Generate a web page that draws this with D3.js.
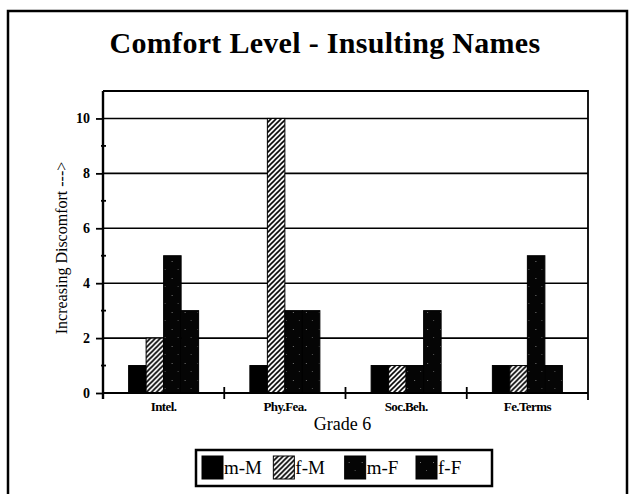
<!DOCTYPE html>
<html>
<head>
<meta charset="utf-8">
<script src="https://cdn.jsdelivr.net/npm/d3@7"></script>
<style>
  html, body { margin: 0; padding: 0; background: #fff; }
  svg { display: block; }
</style>
</head>
<body>
<div id="chart"></div>
<script>
// datos
const categories = ["Intel.", "Phy.Fea.", "Soc.Beh.", "Fe.Terms"]
const seriesNames = ["m-M", "f-M", "m-F", "f-F"]
const mM = [1, 1, 1, 1]
const fM = [2, 10, 1, 1]
const mF = [5, 3, 1, 5]
const fF = [3, 3, 3, 1]
const yTicks = [0, 2, 4, 6, 8, 10]
const yMinorTicks = [1, 3, 5, 7, 9]

const width = 630, height = 494
const margin = { top: 91, right: 42, bottom: 101, left: 103 }
const font = "'Liberation Serif', 'Times New Roman', serif"

const seriesValues = [mM, fM, mF, fF]
const rows = categories.map((c, i) => {
    const row = { cat: c }
    seriesNames.forEach((s, j) => row[s] = seriesValues[j][i])
    return row
})

const svg = d3.select("#chart").append("svg")
    .attr("width", width)
    .attr("height", height)
    .attr("viewBox", [0, 0, width, height])

// patrones de relleno
const defs = svg.append("defs")
const hatch = defs.append("pattern")
    .attr("id", "hatch")
    .attr("patternUnits", "userSpaceOnUse")
    .attr("width", 5).attr("height", 5)
hatch.append("rect").attr("width", 5).attr("height", 5).attr("fill", "#fff")
hatch.append("path")
    .attr("d", "M0,5 L5,0 M-1,1 L1,-1 M4,6 L6,4")
    .attr("stroke", "#000").attr("stroke-width", 1.6)

const speck = defs.append("pattern")
    .attr("id", "speck")
    .attr("patternUnits", "userSpaceOnUse")
    .attr("width", 13).attr("height", 17)
speck.append("rect").attr("width", 13).attr("height", 17).attr("fill", "#050505")
speck.append("rect").attr("x", 4).attr("y", 6).attr("width", 1).attr("height", 1).attr("fill", "#777")
speck.append("rect").attr("x", 10).attr("y", 14).attr("width", 1).attr("height", 1).attr("fill", "#555")

const fills = { "m-M": "#000", "f-M": "url(#hatch)", "m-F": "url(#speck)", "f-F": "url(#speck)" }

// marco exterior
svg.append("path")
    .attr("d", `M8,${height + 5} L8,11 L627,11 L627,${height + 5}`)
    .attr("fill", "none")
    .attr("stroke", "#000")
    .attr("stroke-width", 2.5)

// titulo
svg.append("text")
    .attr("x", 325)
    .attr("y", 53)
    .attr("text-anchor", "middle")
    .attr("font-family", font)
    .attr("font-weight", "bold")
    .attr("font-size", "30px")
    .attr("letter-spacing", "0.3px")
    .text("Comfort Level - Insulting Names")

// escalas
const x0 = d3.scaleBand()
    .domain(categories)
    .range([margin.left, width - margin.right])
    .paddingInner(0.4227)
    .paddingOuter(0.2113)

const x1 = d3.scaleBand()
    .domain(seriesNames)
    .range([0, x0.bandwidth()])

const y = d3.scaleLinear()
    .domain([0, 11])
    .range([height - margin.bottom, margin.top])

const plotBottom = y(0)

// lineas de cuadricula
svg.append("g")
    .selectAll("line")
    .data(yTicks.filter(d => d > 0))
    .join("line")
    .attr("x1", margin.left).attr("x2", width - margin.right)
    .attr("y1", d => y(d)).attr("y2", d => y(d))
    .attr("stroke", "#000")
    .attr("stroke-width", 1.6)

// marco del area
svg.append("path")
    .attr("d", `M${margin.left},${margin.top} L${width - margin.right},${margin.top} L${width - margin.right},${plotBottom + 7}`)
    .attr("fill", "none")
    .attr("stroke", "#000")
    .attr("stroke-width", 1.8)

// barras
svg.append("g")
    .selectAll("g")
    .data(rows)
    .join("g")
    .attr("transform", d => `translate(${x0(d.cat)},0)`)
    .selectAll("rect")
    .data(d => seriesNames.map(s => ({ key: s, value: d[s] })))
    .join("rect")
    .attr("x", d => x1(d.key))
    .attr("y", d => y(d.value))
    .attr("width", x1.bandwidth())
    .attr("height", d => plotBottom - y(d.value))
    .attr("fill", d => fills[d.key])
    .attr("stroke", "#000")
    .attr("stroke-width", 1)

// eje Y
const yAxis = d3.axisLeft(y)
    .tickValues(yTicks)
    .tickSize(7)
    .tickPadding(6)
    .tickFormat(d3.format("d"))

const gy = svg.append("g")
    .attr("transform", `translate(${margin.left},0)`)
    .call(yAxis)
gy.select(".domain").remove()
gy.selectAll(".tick line").attr("stroke", "#000").attr("stroke-width", 1.8)
gy.selectAll(".tick text")
    .attr("font-family", font)
    .attr("font-weight", "bold")
    .attr("font-size", "14px")
    .attr("fill", "#000")

svg.append("line")
    .attr("x1", margin.left).attr("x2", margin.left)
    .attr("y1", margin.top).attr("y2", plotBottom + 6)
    .attr("stroke", "#000").attr("stroke-width", 2.4)

// marcas menores
svg.append("g")
    .selectAll("line")
    .data(yMinorTicks)
    .join("line")
    .attr("x1", margin.left - 2).attr("x2", margin.left + 3)
    .attr("y1", d => y(d)).attr("y2", d => y(d))
    .attr("stroke", "#000").attr("stroke-width", 1.8)

// eje X
svg.append("line")
    .attr("x1", margin.left).attr("x2", width - margin.right)
    .attr("y1", plotBottom).attr("y2", plotBottom)
    .attr("stroke", "#000").attr("stroke-width", 2)

const step = x0.step()
svg.append("g")
    .selectAll("line")
    .data(categories.slice(1))
    .join("line")
    .attr("x1", d => x0(d) - step * x0.paddingInner() / 2)
    .attr("x2", d => x0(d) - step * x0.paddingInner() / 2)
    .attr("y1", plotBottom - 6).attr("y2", plotBottom + 6)
    .attr("stroke", "#000").attr("stroke-width", 1.8)

svg.append("g")
    .selectAll("text")
    .data(categories)
    .join("text")
    .attr("x", d => x0(d) + x0.bandwidth() / 2)
    .attr("y", plotBottom + 18)
    .attr("text-anchor", "middle")
    .attr("font-family", font)
    .attr("font-weight", "bold")
    .attr("font-size", "13px")
    .attr("letter-spacing", "-0.6px")
    .text(d => d)

// titulos de los ejes
svg.append("text")
    .attr("x", (margin.left + width - margin.right) / 2 - 3)
    .attr("y", plotBottom + 37)
    .attr("text-anchor", "middle")
    .attr("font-family", font)
    .attr("font-size", "18px")
    .text("Grade 6")

svg.append("text")
    .attr("transform", `translate(67,${(margin.top + plotBottom) / 2 + 6}) rotate(-90)`)
    .attr("text-anchor", "middle")
    .attr("font-family", font)
    .attr("font-size", "16px")
    .text("Increasing Discomfort --->")

// leyenda
const legend = svg.append("g")
svg.append("rect")
    .attr("x", 196).attr("y", 450)
    .attr("width", 296).attr("height", 36)
    .attr("fill", "#fff")
    .attr("stroke", "#000").attr("stroke-width", 2.5)
    .lower()

const legendX = d3.scalePoint()
    .domain(seriesNames)
    .range([202, 416])

const item = legend.selectAll("g")
    .data(seriesNames)
    .join("g")
    .attr("transform", d => `translate(${legendX(d)},456)`)
item.append("rect")
    .attr("width", 21).attr("height", 23)
    .attr("fill", d => fills[d])
    .attr("stroke", "#000").attr("stroke-width", 1)
item.append("text")
    .attr("x", 22)
    .attr("y", 18)
    .attr("font-family", font)
    .attr("font-size", "19px")
    .text(d => d)
</script>
</body>
</html>
